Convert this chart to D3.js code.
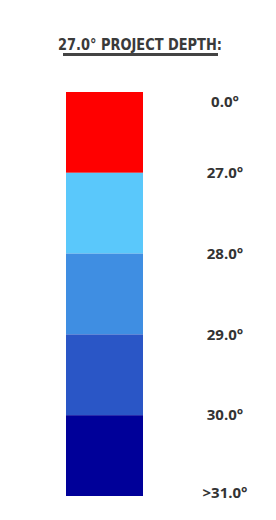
<!DOCTYPE html>
<html lang="en">
<head>
    <meta charset="UTF-8">
    <title>Project Depth</title>
    <script src="https://d3js.org/d3.v7.min.js"></script>
    <style>
        body { margin: 0; background: #fff; }
        svg { display: block; }
    </style>
</head>
<body>
    <script>
        // datos de la leyenda
        const titleText = "27.0\u00B0 PROJECT DEPTH:";
        const bins = ["0-27", "27-28", "28-29", "29-30", "30-31"];
        const binColors = ["#FF0000", "#5AC8FB", "#3F8EE2", "#2A56C6", "#000099"];
        const tickLabels = ["0.0\u00B0", "27.0\u00B0", "28.0\u00B0", "29.0\u00B0", "30.0\u00B0", ">31.0\u00B0"];

        const w = 276;
        const h = 520;
        const barLeft = 66;
        const barRight = 143;
        const barTop = 92;
        const barBottom = 496;
        const labelX = 225;

        let svg = d3.select("body")
                    .append("svg")
                    .attr("width", w)
                    .attr("height", h);

        // titulo subrayado
        svg.append("text")
            .attr("x", 140)
            .attr("y", 50)
            .attr("text-anchor", "middle")
            .attr("textLength", 164)
            .attr("lengthAdjust", "spacingAndGlyphs")
            .style("font-family", "'DejaVu Sans', sans-serif")
            .style("font-weight", "bold")
            .style("font-size", "16px")
            .style("fill", "#3a3a3a")
            .text(titleText);
        svg.append("rect")
            .attr("x", 63)
            .attr("y", 53)
            .attr("width", 155)
            .attr("height", 3)
            .attr("fill", "#444");

        // escala de las franjas
        let yScale = d3.scaleBand()
                        .domain(bins)
                        .range([barTop, barBottom])
                        .padding(0);

        svg.selectAll("rect.bin")
            .data(bins)
            .enter()
            .append("rect")
            .attr("class", "bin")
            .attr("x", barLeft)
            .attr("y", d => yScale(d))
            .attr("width", barRight - barLeft)
            .attr("height", yScale.bandwidth())
            .attr("fill", (d, i) => binColors[i]);

        // etiquetas en los bordes
        let edgeScale = d3.scaleLinear()
                        .domain([0, bins.length])
                        .range([barTop, barBottom]);

        svg.selectAll("text.tick")
            .data(tickLabels)
            .enter()
            .append("text")
            .attr("class", "tick")
            .attr("x", labelX)
            .attr("y", (d, i) => {
                let y = edgeScale(i);
                if (i === 0) y += 10;
                if (i === tickLabels.length - 1) y -= 3;
                return y;
            })
            .attr("dy", "0.35em")
            .attr("text-anchor", "middle")
            .style("font-family", "'Open Sans', sans-serif")
            .style("font-weight", "bold")
            .style("font-size", "15px")
            .style("fill", "#333")
            .text(d => d);
    </script>
</body>
</html>
